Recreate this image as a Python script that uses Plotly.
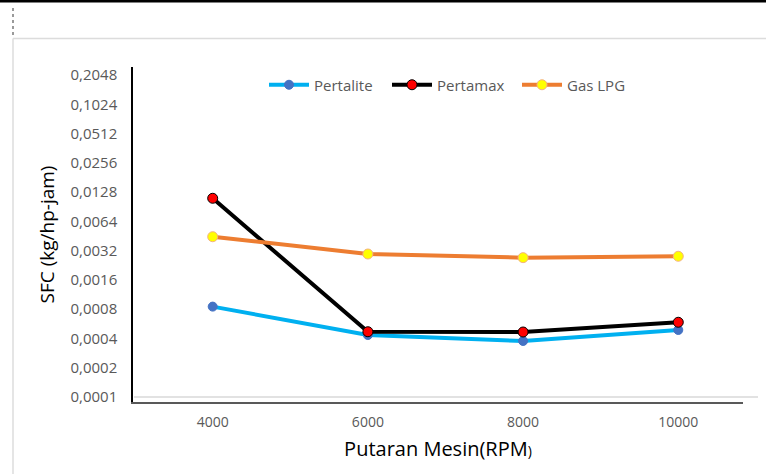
import plotly.graph_objects as go

# ---- data ----
rpm = ["4000", "6000", "8000", "10000"]
pertalite = [0.00085, 0.000434, 0.000377, 0.000489]
pertamax = [0.01105, 0.000469, 0.000466, 0.000587]
gas_lpg = [0.00445, 0.002955, 0.00271, 0.0028]
y_ticks = [0.0001, 0.0002, 0.0004, 0.0008, 0.0016, 0.0032, 0.0064,
           0.0128, 0.0256, 0.0512, 0.1024, 0.2048]
y_tick_text = ["0,0001", "0,0002", "0,0004", "0,0008", "0,0016", "0,0032",
               "0,0064", "0,0128", "0,0256", "0,0512", "0,1024", "0,2048"]

W, H = 766, 474
L, R, T, B = 133, 23, 67, 72
PW, PH = W - L - R, H - T - B


def px(x):
    return (x - L) / PW


def py(y):
    return (H - B - y) / PH


FONT = "Open Sans"
GRAY = "#595959"

fig = go.Figure()
fig.add_trace(go.Scatter(
    x=rpm, y=pertalite, name="Pertalite", mode="lines+markers",
    line=dict(color="#00B0F0", width=4), legendwidth=68,
    marker=dict(color="#4472C4", size=9, line=dict(color="#4472C4", width=1)),
))
fig.add_trace(go.Scatter(
    x=rpm, y=pertamax, name="Pertamax", mode="lines+markers",
    line=dict(color="#000000", width=4), legendwidth=75,
    marker=dict(color="#FF0000", size=10, line=dict(color="#000000", width=1)),
))
fig.add_trace(go.Scatter(
    x=rpm, y=gas_lpg, name="Gas LPG", mode="lines+markers",
    line=dict(color="#ED7D31", width=4), legendwidth=75,
    marker=dict(color="#FFFF00", size=10, line=dict(color="#F4B183", width=1)),
))

shapes = [
    # top black bar of the window
    dict(type="rect", xref="paper", yref="paper", x0=px(0), x1=px(W),
         y0=py(0), y1=py(2.5), fillcolor="#000000", line=dict(width=0)),
    # window frame lines
    dict(type="line", xref="paper", yref="paper", x0=px(13), x1=px(W),
         y0=py(38.5), y1=py(38.5), line=dict(color="#DCDCDC", width=1.5)),
    dict(type="line", xref="paper", yref="paper", x0=px(13), x1=px(13),
         y0=py(38.5), y1=py(H), line=dict(color="#DCDCDC", width=1.5)),
    dict(type="line", xref="paper", yref="paper", x0=px(13), x1=px(13),
         y0=py(8), y1=py(36), line=dict(color="#9A9A9A", width=2, dash="dot")),
    # light baseline
    dict(type="line", xref="paper", yref="paper", x0=px(134), x1=px(758),
         y0=py(397), y1=py(397), line=dict(color="#D9D9D9", width=1.5)),
]

fig.update_layout(
    width=W, height=H,
    margin=dict(l=L, r=R, t=T, b=B),
    paper_bgcolor="white", plot_bgcolor="white",
    font=dict(family=FONT, color=GRAY, size=14),
    showlegend=True,
    legend=dict(orientation="h", x=px(264), xanchor="left", y=py(85),
                yanchor="middle", font=dict(size=15, color=GRAY),
                bgcolor="rgba(0,0,0,0)", itemwidth=40),
    shapes=shapes,
)

fig.update_xaxes(
    type="category", range=[-0.5135, 3.417],
    showgrid=False, zeroline=False,
    showline=True, linecolor="#595959", linewidth=2,
    ticks="", tickfont=dict(size=14, color=GRAY), ticklabelstandoff=6,
    title=dict(text="Putaran Mesin(RPM<span style='font-size:14px'>)</span>",
               font=dict(size=20, color="#000000"), standoff=12),
)
fig.update_yaxes(
    type="log", range=[-4.0514, -0.6065],
    tickvals=y_ticks, ticktext=y_tick_text,
    showgrid=False, zeroline=False,
    showline=True, linecolor="#000000", linewidth=1.5,
    ticks="", tickfont=dict(size=15, color=GRAY), ticklabelstandoff=11,
    title=dict(text="SFC (kg/hp-jam)", font=dict(size=19, color="#000000"),
               standoff=11),
)

fig.write_html("out.html", config={"displayModeBar": False},
               post_script="document.body.style.margin='0';")
